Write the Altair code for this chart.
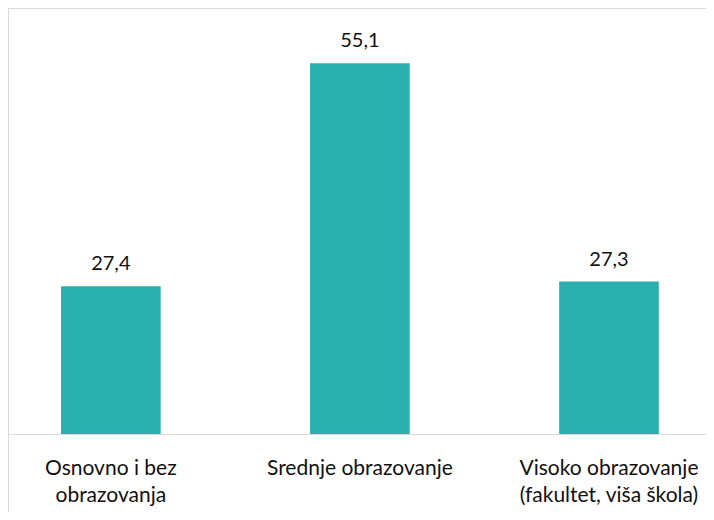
import altair as alt
import pandas as pd

categories = ["Osnovno i bez\nobrazovanja", "Srednje obrazovanje", "Visoko obrazovanje\n(fakultet, viša škola)"]
bar_values = [22.0, 55.1, 22.7]
value_labels = ["27,4", "55,1", "27,3"]

Y_MIN, Y_MAX = -11.50, 63.31

df = pd.DataFrame({"cat": categories, "val": bar_values, "lbl": value_labels})

FONT = "Lato"
BORDER = "#d9d9d9"
x_enc = alt.X(
    "cat:N",
    sort=None,
    scale=alt.Scale(range=[-21.7, 725.5], paddingInner=0.6, paddingOuter=0.3),
    axis=alt.Axis(
        title=None, labelAngle=0, domain=False, ticks=False, tickSize=0,
        labelExpr="split(datum.value, '\\n')",
        labelFont=FONT, labelFontSize=21, labelColor="#111111",
        labelLineHeight=27, labelPadding=23, offset=-77.5, labelLimit=0,
        grid=False,
    ),
)
y_scale = alt.Scale(domain=[Y_MIN, Y_MAX], nice=False, zero=False)

base = alt.Chart(df)

bars = base.mark_bar(color="#29B0AE").encode(
    x=x_enc,
    y=alt.Y("val:Q", scale=y_scale,
            axis=alt.Axis(title=None, labels=False, ticks=False, grid=False,
                          domain=True, domainColor=BORDER, domainWidth=1)),
    y2=alt.datum(0),
)

labels = base.mark_text(
    font=FONT, fontSize=20, color="#111111", baseline="alphabetic", dy=-16
).encode(
    x=alt.X("cat:N", sort=None),
    y=alt.Y("val:Q", scale=y_scale),
    text="lbl:N",
)

baseline = base.mark_rule(color=BORDER, strokeWidth=1).encode(
    y=alt.datum(0)
)
top_border = base.mark_rule(color=BORDER, strokeWidth=1).encode(
    y=alt.datum(Y_MAX)
)

chart = (
    alt.layer(bars, labels, baseline, top_border)
    .properties(width=698, height=504, padding=0, autosize=alt.AutoSizeParams(type="none"))
    .configure_view(stroke=None)
    .configure(background="white")
)

chart.save("out.html", embed_options={"renderer": "svg", "actions": False})
